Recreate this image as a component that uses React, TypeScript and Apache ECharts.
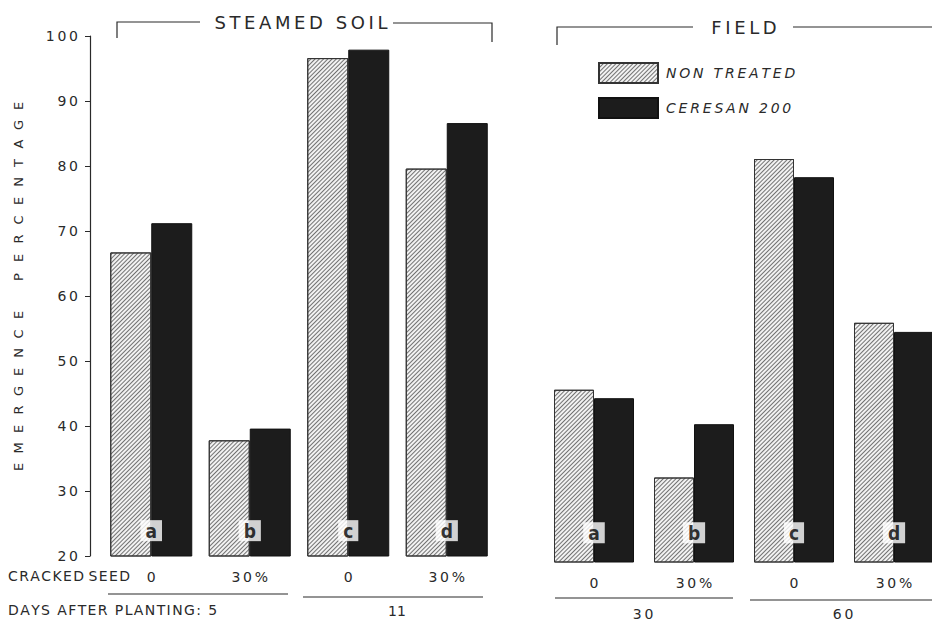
import React, { useEffect, useRef } from "react";
import * as echarts from "echarts";

const categories = ["0", "30%", "0", "30%"];
const letters = ["a", "b", "c", "d"];
const steamedNonTreated = [66.7, 37.8, 96.6, 79.6];
const steamedCeresan = [71.2, 39.6, 97.9, 86.6];
const fieldNonTreated = [46.5, 33.0, 82.0, 56.8];
const fieldCeresan = [45.2, 41.2, 79.2, 55.4];
const letterLevel = [23.9, 23.9, 23.9, 23.9];
const fieldLetterLevel = [24.5, 24.5, 24.5, 24.5];
const yTicks = { min: 20, max: 100, interval: 10 };
const yTitleWords = ["EMERGENCE", "PERCENTAGE"];

const FONT = "DejaVu Sans, Liberation Sans, sans-serif";
const INK = "#2a2a2a";
const THIN = "\u2009";
const HAIR = "\u200A";
const spaced = (s: string, sep: string) => s.split("").join(sep);

const hatchDecal = {
  symbol: "rect",
  symbolSize: 1,
  rotation: -Math.PI / 4,
  dashArrayX: [[1, 0]],
  dashArrayY: [1, 2],
  color: "rgba(60,60,60,0.7)",
};

function yTitleLetters() {
  const out: any[] = [];
  let y = 467;
  yTitleWords.forEach((w, wi) => {
    if (wi > 0) y -= 19;
    w.split("").forEach((ch) => {
      out.push({
        type: "text",
        x: 18,
        y,
        rotation: Math.PI / 2,
        style: { text: ch, fontFamily: FONT, fontSize: 13, fill: INK, align: "center", verticalAlign: "middle" },
      });
      y -= 19;
    });
  });
  return out;
}

export default function App() {
  const ref = useRef<HTMLDivElement>(null);
  useEffect(() => {
    if (!ref.current) return;
    const chart = echarts.init(ref.current, null, { renderer: "svg" });
    const hatchStyle = {
      color: "#f2f2f2",
      borderColor: "#333",
      borderWidth: 1,
      decal: hatchDecal,
    };
    const blackStyle = { color: "#1c1c1c", borderColor: "#111", borderWidth: 1 };
    const letterLabel = (data: string[]) => ({
      show: true,
      position: "inside",
      formatter: (p: any) => data[p.dataIndex],
      fontFamily: "DejaVu Sans Condensed, DejaVu Sans, sans-serif",
      fontWeight: "bold",
      fontSize: 19,
      lineHeight: 19,
      color: "#000",
      backgroundColor: "#fff",
      padding: [1, 5, 1, 5],
    });
    const xAxisCommon = {
      type: "category",
      data: categories,
      axisLine: { show: false },
      axisTick: { show: false },
      axisLabel: {
        color: INK,
        fontFamily: FONT,
        fontSize: 14,
        margin: 14,
        formatter: (v: string) => spaced(v, THIN),
      },
    };
    const yAxisCommon = {
      type: "value",
      min: yTicks.min,
      max: yTicks.max,
      interval: yTicks.interval,
      splitLine: { show: false },
    };
    const txt = (text: string, x: number, y: number, extra: any = {}) => ({
      type: "text",
      x,
      y,
      style: { text, fontFamily: FONT, fontSize: 13, fill: INK, verticalAlign: "middle", ...extra },
    });
    const ln = (x1: number, y1: number, x2: number, y2: number) => ({
      type: "line",
      shape: { x1, y1, x2, y2 },
      style: { stroke: INK, lineWidth: 1.2 },
    });
    chart.setOption({
      animation: false,
      backgroundColor: "#fff",
      legend: {
        orient: "vertical",
        left: 593,
        top: 57,
        itemWidth: 59,
        itemHeight: 20,
        itemGap: 13,
        icon: "rect",
        data: ["NON TREATED", "CERESAN 200"],
        formatter: (n: string) => spaced(n, THIN),
        textStyle: { fontFamily: FONT, fontStyle: "italic", fontSize: 14, color: INK, padding: [0, 0, 0, 3] },
      },
      grid: [
        { left: 102, top: 36, width: 394, height: 520 },
        { left: 544, top: 42, width: 400, height: 520 },
      ],
      xAxis: [
        { ...xAxisCommon, gridIndex: 0 },
        { ...xAxisCommon, gridIndex: 1 },
      ],
      yAxis: [
        {
          ...yAxisCommon,
          gridIndex: 0,
          offset: 12,
          axisLine: { show: true, lineStyle: { color: INK, width: 1.2 } },
          axisTick: { show: true, length: 5, lineStyle: { color: INK } },
          axisLabel: {
            color: INK,
            fontFamily: FONT,
            fontSize: 14,
            margin: 12,
            formatter: (v: number) => spaced(String(v), THIN),
          },
        },
        { ...yAxisCommon, gridIndex: 1, show: false },
      ],
      series: [
        { name: "NON TREATED", type: "bar", xAxisIndex: 0, yAxisIndex: 0, data: steamedNonTreated, barWidth: 41, barGap: "0%", itemStyle: hatchStyle },
        { name: "CERESAN 200", type: "bar", xAxisIndex: 0, yAxisIndex: 0, data: steamedCeresan, barWidth: 41, barGap: "0%", itemStyle: blackStyle },
        { name: "NON TREATED", type: "bar", xAxisIndex: 1, yAxisIndex: 1, data: fieldNonTreated, barWidth: 40, barGap: "0%", itemStyle: hatchStyle },
        { name: "CERESAN 200", type: "bar", xAxisIndex: 1, yAxisIndex: 1, data: fieldCeresan, barWidth: 40, barGap: "0%", itemStyle: blackStyle },
        { type: "scatter", xAxisIndex: 0, yAxisIndex: 0, symbolSize: 0, data: letterLevel, label: letterLabel(letters), z: 10 },
        { type: "scatter", xAxisIndex: 1, yAxisIndex: 1, symbolSize: 0, data: fieldLetterLevel, label: letterLabel(letters), z: 10 },
      ],
      graphic: [
        ...yTitleLetters(),
        // steamed soil bracket
        { type: "polyline", shape: { points: [[117, 38], [117, 22], [200, 22]] }, style: { stroke: INK, lineWidth: 1.2, fill: null } },
        { type: "polyline", shape: { points: [[393, 23], [492, 23], [492, 42]] }, style: { stroke: INK, lineWidth: 1.2, fill: null } },
        txt(spaced("STEAMED SOIL", THIN), 301, 22, { fontSize: 18, align: "center" }),
        // field bracket
        { type: "polyline", shape: { points: [[557, 45], [557, 27], [693, 27]] }, style: { stroke: INK, lineWidth: 1.2, fill: null } },
        ln(793, 27, 932, 27),
        txt(spaced("FIELD", THIN), 744, 27, { fontSize: 18, align: "center" }),
        // bottom labels
        txt(spaced("CRACKED", HAIR) + " " + spaced("SEED", HAIR), 8, 576, { fontSize: 14 }),
        ln(108, 594, 288, 594),
        ln(303, 597, 483, 597),
        ln(555, 598, 733, 598),
        ln(750, 600, 932, 600),
        txt(spaced("DAYS AFTER PLANTING: 5", HAIR), 8, 610, { fontSize: 14 }),
        txt("11", 397, 611, { align: "center", fontSize: 14 }),
        txt(spaced("30", THIN), 643, 614, { align: "center", fontSize: 14 }),
        txt(spaced("60", THIN), 843, 614, { align: "center", fontSize: 14 }),
      ],
    });
    return () => chart.dispose();
  }, []);
  return (
    <div style={{ position: "absolute", left: 0, top: 0, width: 932, height: 622, overflow: "hidden" }}>
      <div ref={ref} style={{ width: 980, height: 622 }} />
    </div>
  );
}
